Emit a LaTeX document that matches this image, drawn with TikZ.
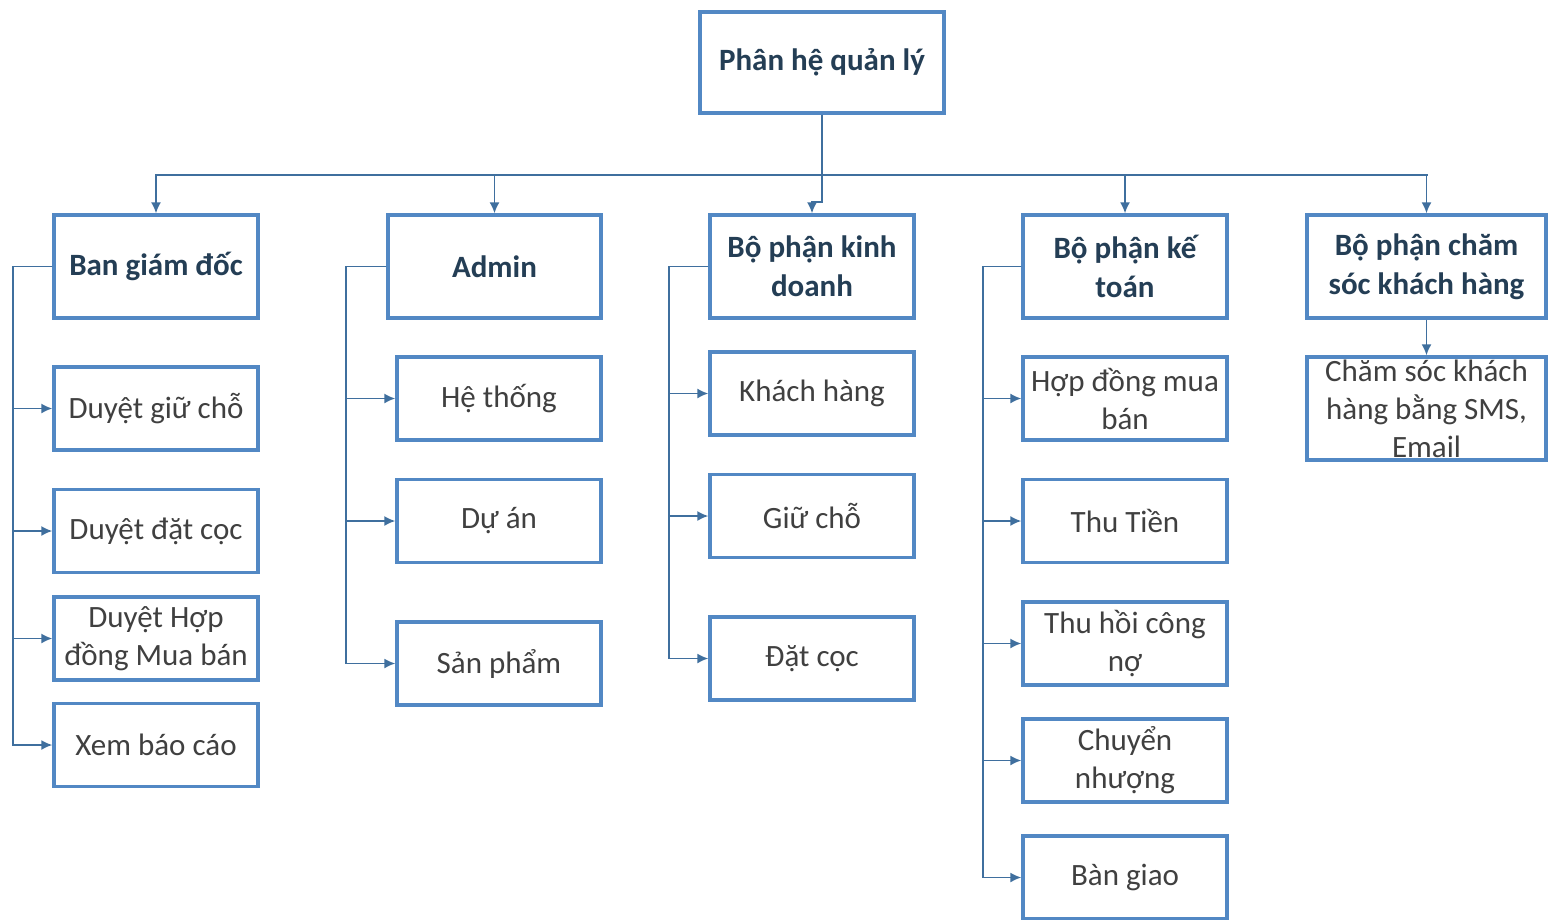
\documentclass[tikz,border=0pt]{standalone}
\usepackage{fontspec}
\setmainfont{Carlito}
\usetikzlibrary{arrows.meta,positioning}
\definecolor{boxblue}{HTML}{5288C4}
\definecolor{linkblue}{HTML}{3F6F9E}
\definecolor{headtext}{HTML}{243E55}
\definecolor{leaftext}{HTML}{404040}
\tikzset{
  box/.style={draw=boxblue,line width=3.4pt,fill=white,minimum width=204,minimum height=83,inner sep=0pt,align=center,font=\fontsize{31}{38}\selectfont},
  headbox/.style={box,minimum height=103,text=headtext,font=\fontsize{31}{39}\selectfont\bfseries},
  leafbox/.style={box,text=leaftext},
  link/.style={draw=linkblue,line width=1.7pt},
  arr/.style={link,-{Latex[length=11pt,width=10pt]}}
}
\begin{document}
\begin{tikzpicture}[x=1pt,y=-1pt]
\useasboundingbox[fill=white] (0,0) rectangle (1548,919);

% top level
\node[headbox,minimum width=244,minimum height=101] (root) at (822,62.5) {Phân hệ quản lý};
\coordinate (busL) at (155,175);
\coordinate (busR) at (1428,175);

% departments
\node[headbox] (bgd) at (156,266.5) {Ban giám đốc};
\node[headbox,minimum width=213] (adm) at (494.5,266.5) {Admin};
\node[headbox] (kd) at (812,266.5) {Bộ phận kinh\\doanh};
\node[headbox] (kt) at (1125,266.5) {Bộ phận kế\\toán};
\node[headbox,minimum width=239] (cs) at (1426.5,266.5) {Bộ phận chăm\\sóc khách hàng};

% Ban giam doc
\node[leafbox] (bgd1) at (156,408.5) {Duyệt giữ chỗ};
\node[leafbox] (bgd2) at (156,531) {Duyệt đặt cọc};
\node[leafbox] (bgd3) at (156,638.5) {Duyệt Hợp\\đồng Mua bán};
\node[leafbox] (bgd4) at (156,745) {Xem báo cáo};

% Admin
\node[leafbox] (adm1) at (499,398.5) {Hệ thống};
\node[leafbox] (adm2) at (499,521) {Dự án};
\node[leafbox] (adm3) at (499,663.5) {Sản phẩm};

% Kinh doanh
\node[leafbox] (kd1) at (812,393.5) {Khách hàng};
\node[leafbox] (kd2) at (812,516) {Giữ chỗ};
\node[leafbox] (kd3) at (812,658.5) {Đặt cọc};

% Ke toan
\node[leafbox] (kt1) at (1125,398.5) {Hợp đồng mua\\bán};
\node[leafbox] (kt2) at (1125,521) {Thu Tiền};
\node[leafbox] (kt3) at (1125,643.5) {Thu hồi công\\nợ};
\node[leafbox] (kt4) at (1125,760.5) {Chuyển\\nhượng};
\node[leafbox] (kt5) at (1125,877.5) {Bàn giao};

% Cham soc
\node[leafbox,minimum width=239,minimum height=103] (cs1) at (1426.5,408.5) {Chăm sóc khách\\hàng bằng SMS,\\Email};

% connectors
\draw[link] (root.south) -- (root.south |- busL);
\draw[link] (busL) -- (busR);
\draw[arr] (root.south) -- ++(0,87) -| (kd.north);
\foreach \d in {bgd,adm,kt,cs}
  \draw[arr] (\d.north |- busL) -- (\d.north);

\foreach \c in {1,...,4}
  \draw[arr] (bgd.west) -- ++(-39,0) |- (bgd\c.west);
\foreach \c in {1,...,3}
  \draw[arr] (adm.west) -- ++(-40,0) |- (adm\c.west);
\foreach \c in {1,...,3}
  \draw[arr] (kd.west) -- ++(-39,0) |- (kd\c.west);
\foreach \c in {1,...,5}
  \draw[arr] (kt.west) -- ++(-38,0) |- (kt\c.west);
\draw[arr] (cs.south) -- (cs1.north);
\end{tikzpicture}
\end{document}
